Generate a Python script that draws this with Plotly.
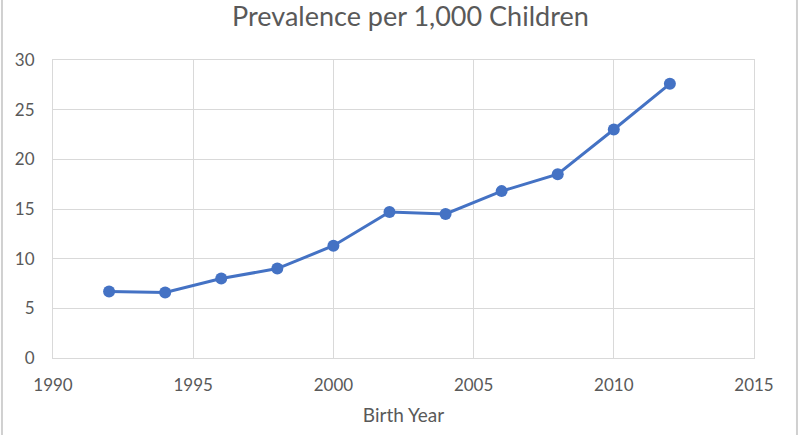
import plotly.graph_objects as go

years = [1992, 1994, 1996, 1998, 2000, 2002, 2004, 2006, 2008, 2010, 2012]
prevalence = [6.7, 6.6, 8.0, 9.0, 11.3, 14.7, 14.5, 16.8, 18.5, 23.0, 27.6]
title_text = "Prevalence per 1,000 Children"
x_title = "Birth Year"

font_family = "Lato, 'Open Sans', sans-serif"
grid = "#d9d9d9"
text_col = "#595959"

fig = go.Figure()
fig.add_trace(go.Scatter(
    x=years, y=prevalence, mode="lines+markers",
    line=dict(color="#4472c4", width=3),
    marker=dict(color="#4472c4", size=12),
    showlegend=False,
))

fig.update_layout(
    width=800, height=435,
    margin=dict(l=53, r=46, t=60, b=77, autoexpand=False),
    paper_bgcolor="white", plot_bgcolor="white",
    font=dict(family=font_family, color=text_col),
    title=dict(text=title_text, x=0.513, xanchor="center", y=0.962, yanchor="middle",
               pad=dict(t=0, b=0),
               font=dict(size=27, color=text_col, family=font_family)),
    xaxis=dict(range=[1990, 2015], dtick=5, tick0=1990, showgrid=True, gridcolor=grid, gridwidth=1,
               showline=True, linecolor=grid, mirror=True, zeroline=False, ticks="",
               automargin=False,
               tickfont=dict(size=17, color=text_col), ticklabelstandoff=12,
               title=dict(text=x_title, font=dict(size=19, color=text_col), standoff=14)),
    yaxis=dict(range=[0, 30], dtick=5, showgrid=True, gridcolor=grid, gridwidth=1,
               showline=True, linecolor=grid, mirror=True, zeroline=False, ticks="",
               automargin=False,
               tickfont=dict(size=17, color=text_col), ticklabelstandoff=14),
    shapes=[
        dict(type="line", xref="paper", yref="paper", x0=-0.0728, x1=-0.0728, y0=-0.3, y1=1.25,
             line=dict(color="#d0d0d0", width=2)),
        dict(type="line", xref="paper", yref="paper", x0=1.0613, x1=1.0613, y0=-0.3, y1=1.25,
             line=dict(color="#d0d0d0", width=2)),
    ],
)

fig.write_html("out.html", config={"displayModeBar": False},
               post_script="document.body.style.margin='0';")
